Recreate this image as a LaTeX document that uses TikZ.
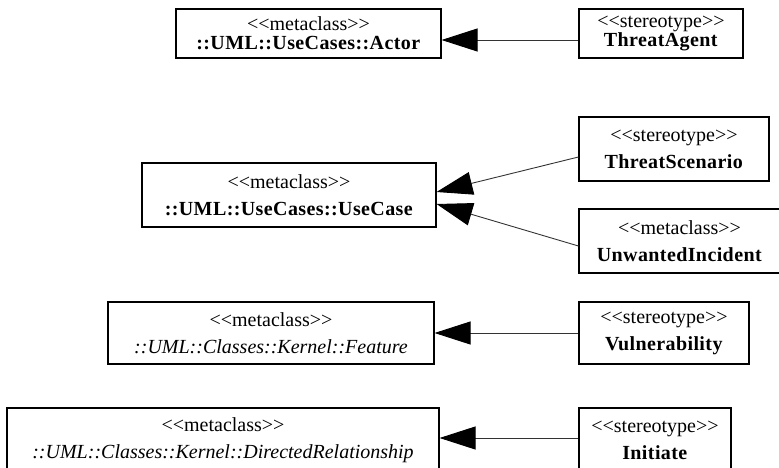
\documentclass[tikz,border=0pt]{standalone}
\usepackage{fontspec}
\setmainfont{Liberation Serif}[Ligatures=ResetAll]
\usetikzlibrary{arrows.meta}
\newcommand{\stname}[1]{<\kern0pt<#1>\kern0pt>}
\newcommand{\bname}[1]{{\addfontfeatures{LetterSpace=2}\textbf{#1}}}
\begin{document}
\begin{tikzpicture}[x=1pt,y=-1pt,
  cls/.style={draw=black,line width=1.1pt,rectangle,inner sep=0pt,align=center,
    font=\fontsize{20}{27}\selectfont},
  tight/.style={font=\fontsize{20}{19}\selectfont},
  gen/.style={draw=black!80,line width=0.9pt,-{Triangle[length=36pt,width=23pt,fill=black,color=black]}}]
\useasboundingbox (0,0) rectangle (779,468);
% top row
\node[cls,tight,minimum width=265pt,minimum height=49pt] (actor) at (308.5,33.5)
  {\stname{metaclass}\\\bname{::UML::UseCases::Actor}};
\node[cls,tight,minimum width=164pt,minimum height=49pt] (agent) at (661,33.5)
  {\stname{stereotype}\\\bname{ThreatAgent}};
% second group
\node[cls,minimum width=294pt,minimum height=64pt] (usecase) at (289,195)
  {\stname{metaclass}\\\bname{::UML::UseCases::UseCase}};
\node[cls,minimum width=190pt,minimum height=64pt] (scenario) at (674,149)
  {\stname{stereotype}\\\bname{ThreatScenario}};
\node[cls,minimum width=201pt,minimum height=64pt] (incident) at (679.5,241)
  {\stname{metaclass}\\\bname{UnwantedIncident}};
% third
\node[cls,minimum width=326pt,minimum height=62pt] (feature) at (271,333)
  {\stname{metaclass}\\\textit{::UML::Classes::Kernel::Feature}};
\node[cls,minimum width=170pt,minimum height=62pt] (vuln) at (664,333)
  {\stname{stereotype}\\\bname{Vulnerability}};
% fourth
\node[cls,minimum width=432pt,minimum height=64pt] (dirrel) at (223,440)
  {\stname{metaclass}\\\textit{::UML::Classes::Kernel::DirectedRelationship}};
\node[cls,minimum width=152pt,minimum height=64pt] (initiate) at (655,440)
  {\stname{stereotype}\\\bname{Initiate}};
% connectors
\draw[gen] ([yshift=-6.5pt]agent.west) -- ([yshift=-6.5pt]actor.east);
\draw[gen] ([yshift=-8pt]scenario.west) -- ([yshift=3pt]usecase.east);
\draw[gen] ([yshift=-5pt]incident.west) -- ([yshift=-9pt]usecase.east);
\draw[gen] (vuln.west) -- (feature.east);
\draw[gen] ([yshift=2pt]initiate.west) -- ([yshift=2pt]dirrel.east);
\end{tikzpicture}
\end{document}
